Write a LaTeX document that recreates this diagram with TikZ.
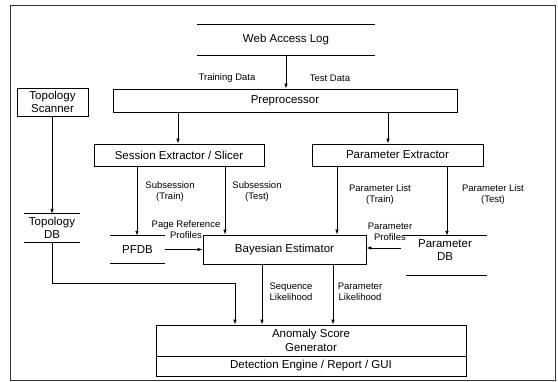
\documentclass[tikz,border=0pt]{standalone}
\usepackage{fontspec}
\setmainfont{Liberation Sans}
\usetikzlibrary{arrows.meta,calc}
\newcommand{\boxfont}{\fontsize{11.5}{13.5}\selectfont}
\newcommand{\lblfont}{\fontsize{9.5}{11}\selectfont}
\begin{document}
\begin{tikzpicture}[x=1pt,y=-1pt,
  box/.style n args={2}{draw,line width=.8pt,fill=white,minimum width=#1,minimum height=#2,inner sep=0pt,font=\boxfont,align=center},
  db/.style n args={2}{minimum width=#1,minimum height=#2,inner sep=0pt,font=\boxfont,align=center},
  lbl/.style={font=\lblfont,align=center,inner sep=0pt},
  arr/.style={-{Latex[length=5pt,width=3.6pt]},line width=.8pt},
  ln/.style={line width=.8pt}]
\useasboundingbox (0,0) rectangle (558,382);
\draw[line width=.7pt,black!80] (10,5) rectangle (555,380);

% storage-like nodes
\node[db={178pt}{30pt}] (wal) at (286,40) {Web Access Log};
\draw[ln] (wal.north west) -- (wal.north east);
\draw[ln] (wal.south west) -- (wal.south east);

\node[db={56pt}{28pt}] (tdb) at (52,228) {Topology\\DB};
\draw[ln] (tdb.north west) -- (tdb.north east);
\draw[ln] (tdb.south west) -- (tdb.south east);

\node[db={55pt}{27pt}] (pfdb) at (137.5,249.5) {PFDB};
\draw[ln] (pfdb.north west) -- (pfdb.north east);
\draw[ln] (pfdb.south west) -- (pfdb.south east);

\node[db={84pt}{28pt}] (pdb) at (445,250) {Parameter\\DB};
\draw[ln] (pdb.north west) -- (pdb.north east);
\draw[ln] ([xshift=3pt,yshift=-11pt]pdb.south west) -- ([yshift=-11pt]pdb.south east);

% labels
\node[lbl] (ltrain) at (227,78) {Training Data};
\node[lbl] (ltest) at (330,78) {Test Data};
\node[lbl] (lsubtr) at (170,191.5) {Subsession\\(Train)};
\node[lbl] (lsubte) at (257,191.5) {Subsession\\(Test)};
\node[lbl] (lpltr) at (380,195) {Parameter List\\(Train)};
\node[lbl] (lplte) at (493,195) {Parameter List\\(Test)};
\node[lbl] (lprp) at (186,230) {Page Reference\\Profiles};
\node[lbl] (lpp) at (390,231.5) {Parameter\\Profiles};
\node[lbl] (lsl) at (291,292) {Sequence\\Likelihood};
\node[lbl] (lpl) at (360,292) {Parameter\\Likelihood};

% boxes
\node[box={71pt}{28pt}] (ts) at (52.5,102) {Topology\\Scanner};
\node[box={344pt}{23pt}] (pre) at (285,100.5) {Preprocessor};
\node[box={170pt}{22pt}] (ses) at (179,155) {Session Extractor / Slicer};
\node[box={171pt}{22pt}] (pe) at (397.5,155) {Parameter Extractor};
\node[box={163pt}{29pt}] (be) at (284.5,249.5) {Bayesian Estimator};
\node[box={310pt}{31pt}] (asg) at (311,340.5) {Anomaly Score\\Generator};
\node[box={310pt}{20pt}] (de) at (311,366) {Detection Engine / Report / GUI};

% connectors
\draw[arr] (wal.south) -- (wal.south |- pre.north);
\draw[arr] (pre.south -| 178,0) -- (ses.north -| 178,0);
\draw[arr] (pre.south -| 388,0) -- (pe.north -| 388,0);
\draw[arr] (ses.south -| 137,0) -- (pfdb.north -| 137,0);
\draw[arr] (ses.south -| 225,0) -- (be.north -| 225,0);
\draw[arr] (pe.south -| 337,0) -- (be.north -| 337,0);
\draw[arr] (pe.south -| 447,0) -- (pdb.north -| 447,0);
\draw[arr] (ts.south -| tdb.north) -- (tdb.north);
\draw[arr] (pfdb.east) -- (be.west);
\draw[arr] ([xshift=-2pt]pdb.west |- 0,248) -- (be.east |- 0,248);
\draw[arr] (tdb.south) -- (52,283) -- (235,283) -- (asg.north -| 235,0);
\draw[arr] (be.south -| 262,0) -- (asg.north -| 262,0);
\draw[arr] (be.south -| 333,0) -- (asg.north -| 333,0);
\end{tikzpicture}
\end{document}
